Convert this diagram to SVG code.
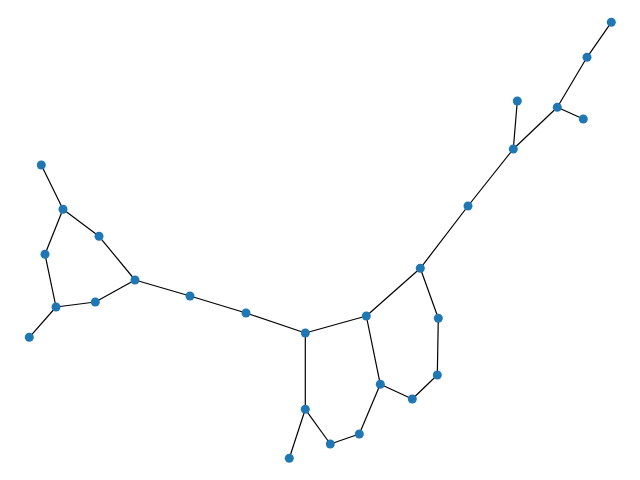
<svg xmlns="http://www.w3.org/2000/svg" width="640" height="480" viewBox="0 0 640 480">
<style>
.e{stroke:#000;stroke-width:1.2;fill:none}
.n circle{fill:#1f77b4}
</style>
<rect width="640" height="480" fill="#fff"/>
<g id="edges" class="e">
<line x1="611.3" y1="22.3" x2="587" y2="57.3"/>
<line x1="587" y1="57.3" x2="557.3" y2="107.3"/>
<line x1="557.3" y1="107.3" x2="583.3" y2="119"/>
<line x1="557.3" y1="107.3" x2="513.3" y2="149"/>
<line x1="517.3" y1="101" x2="513.3" y2="149"/>
<line x1="513.3" y1="149" x2="468" y2="206"/>
<line x1="468" y1="206" x2="420.3" y2="268.3"/>
<line x1="420.3" y1="268.3" x2="366.3" y2="316"/>
<line x1="420.3" y1="268.3" x2="438.3" y2="318.3"/>
<line x1="438.3" y1="318.3" x2="437.3" y2="375"/>
<line x1="437.3" y1="375" x2="412.3" y2="399"/>
<line x1="412.3" y1="399" x2="380.3" y2="384.3"/>
<line x1="380.3" y1="384.3" x2="366.3" y2="316"/>
<line x1="366.3" y1="316" x2="305.3" y2="333"/>
<line x1="380.3" y1="384.3" x2="359.3" y2="434"/>
<line x1="359.3" y1="434" x2="330.3" y2="444"/>
<line x1="330.3" y1="444" x2="305.3" y2="409.3"/>
<line x1="305.3" y1="409.3" x2="305.3" y2="333"/>
<line x1="305.3" y1="409.3" x2="289.3" y2="458.3"/>
<line x1="305.3" y1="333" x2="246" y2="313"/>
<line x1="246" y1="313" x2="190" y2="296"/>
<line x1="190" y1="296" x2="135" y2="280"/>
<line x1="135" y1="280" x2="99" y2="236.3"/>
<line x1="99" y1="236.3" x2="63" y2="209.3"/>
<line x1="63" y1="209.3" x2="41.3" y2="165"/>
<line x1="63" y1="209.3" x2="45" y2="254.3"/>
<line x1="45" y1="254.3" x2="56" y2="307"/>
<line x1="56" y1="307" x2="29.3" y2="337.3"/>
<line x1="56" y1="307" x2="95.3" y2="302"/>
<line x1="95.3" y1="302" x2="135" y2="280"/>
</g>
<g class="n">
<g id="n1"><circle cx="611.3" cy="22.3" r="4.5"/></g>
<g id="n2"><circle cx="587" cy="57.3" r="4.5"/></g>
<g id="n3"><circle cx="557.3" cy="107.3" r="4.5"/></g>
<g id="n4"><circle cx="583.3" cy="119" r="4.5"/></g>
<g id="n5"><circle cx="517.3" cy="101" r="4.5"/></g>
<g id="n6"><circle cx="513.3" cy="149" r="4.5"/></g>
<g id="n7"><circle cx="468" cy="206" r="4.5"/></g>
<g id="n8"><circle cx="420.3" cy="268.3" r="4.5"/></g>
<g id="n9"><circle cx="366.3" cy="316" r="4.5"/></g>
<g id="n10"><circle cx="438.3" cy="318.3" r="4.5"/></g>
<g id="n11"><circle cx="437.3" cy="375" r="4.5"/></g>
<g id="n12"><circle cx="412.3" cy="399" r="4.5"/></g>
<g id="n13"><circle cx="380.3" cy="384.3" r="4.5"/></g>
<g id="n14"><circle cx="305.3" cy="333" r="4.5"/></g>
<g id="n15"><circle cx="305.3" cy="409.3" r="4.5"/></g>
<g id="n16"><circle cx="289.3" cy="458.3" r="4.5"/></g>
<g id="n17"><circle cx="330.3" cy="444" r="4.5"/></g>
<g id="n18"><circle cx="359.3" cy="434" r="4.5"/></g>
<g id="n19"><circle cx="246" cy="313" r="4.5"/></g>
<g id="n20"><circle cx="190" cy="296" r="4.5"/></g>
<g id="n21"><circle cx="135" cy="280" r="4.5"/></g>
<g id="n22"><circle cx="99" cy="236.3" r="4.5"/></g>
<g id="n23"><circle cx="63" cy="209.3" r="4.5"/></g>
<g id="n24"><circle cx="41.3" cy="165" r="4.5"/></g>
<g id="n25"><circle cx="45" cy="254.3" r="4.5"/></g>
<g id="n26"><circle cx="56" cy="307" r="4.5"/></g>
<g id="n27"><circle cx="29.3" cy="337.3" r="4.5"/></g>
<g id="n28"><circle cx="95.3" cy="302" r="4.5"/></g>
</g>
</svg>
